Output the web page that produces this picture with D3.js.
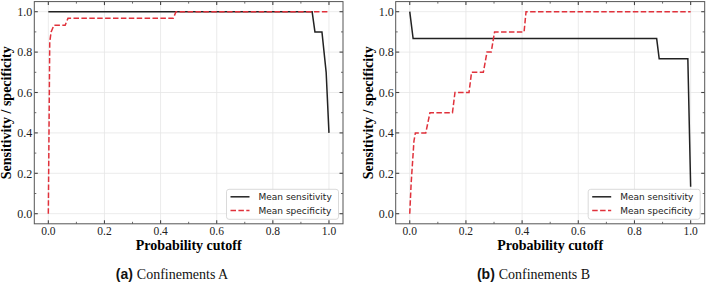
<!DOCTYPE html>
<html>
<head>
<meta charset="utf-8">
<script src="https://cdn.jsdelivr.net/npm/d3@7"></script>
<style>
  html, body { margin: 0; padding: 0; background: #fff; }
  svg { display: block; }
  .serif { font-family: 'Liberation Serif', 'Times New Roman', Times, 'DejaVu Serif', serif; }
  .sans { font-family: 'DejaVu Sans', sans-serif; }
  .capsans { font-family: 'Liberation Sans', Arial, Helvetica, sans-serif; }
</style>
</head>
<body>
<svg id="chart" width="708" height="284"></svg>
<script>
// data: [probability cutoff, value]
const sensitivityA = [[0, 1], [0.94, 1], [0.95, 0.9], [0.975, 0.9], [0.99, 0.7], [1.0, 0.4]]
const specificityA = [[0, 0], [0.005, 0.85], [0.01, 0.9], [0.02, 0.933], [0.06, 0.933], [0.07, 0.967],
  [0.445, 0.967], [0.455, 1], [1.0, 1]]
const sensitivityB = [[0, 1], [0.012, 0.867], [0.879, 0.867], [0.888, 0.767], [0.99, 0.767], [1.0, 0.133]]
const specificityB = [[0, 0], [0.005, 0.15], [0.015, 0.36], [0.02, 0.4], [0.057, 0.4], [0.072, 0.5],
  [0.152, 0.5], [0.161, 0.6], [0.211, 0.6], [0.22, 0.7], [0.262, 0.7], [0.275, 0.8],
  [0.29, 0.8], [0.302, 0.9], [0.407, 0.9], [0.414, 1], [1.0, 1]]

const majorTicks = [0, 0.2, 0.4, 0.6, 0.8, 1.0]
const minorTicks = [0.1, 0.3, 0.5, 0.7, 0.9]
const legendLabels = ['Mean sensitivity', 'Mean specificity']
const captions = [['(a)', 'Confinements A'], ['(b)', 'Confinements B']]
const xLabel = 'Probability cutoff'
const yLabel = 'Sensitivity / specificity'

const panels = [
  { left: 34.3, right: 343, sens: sensitivityA, spec: specificityA, caption: captions[0], capX: 172 },
  { left: 395.7, right: 704.7, sens: sensitivityB, spec: specificityB, caption: captions[1], capX: 533.5 }
]
const plotTop = 1.6, plotBottom = 223.8
const red = '#e0313b'

const svg = d3.select('#chart')

panels.forEach(p => {
  const x = d3.scaleLinear().domain([-0.05, 1.05]).range([p.left, p.right])
  const y = d3.scaleLinear().domain([-0.05, 1.05]).range([plotBottom, plotTop])
  const g = svg.append('g')

  // grid
  g.append('g').selectAll('line').data(majorTicks).join('line')
    .attr('x1', d => x(d)).attr('x2', d => x(d)).attr('y1', plotTop).attr('y2', plotBottom)
    .attr('stroke', '#e6e6e6').attr('stroke-width', 0.8)
  g.append('g').selectAll('line').data(majorTicks).join('line')
    .attr('y1', d => y(d)).attr('y2', d => y(d)).attr('x1', p.left).attr('x2', p.right)
    .attr('stroke', '#e6e6e6').attr('stroke-width', 0.8)

  // lines
  const line = d3.line().x(d => x(d[0])).y(d => y(d[1]))
  g.append('path').datum(p.sens).attr('d', line)
    .attr('fill', 'none').attr('stroke', '#222').attr('stroke-width', 1.5)
  g.append('path').datum(p.spec).attr('d', line)
    .attr('fill', 'none').attr('stroke', red).attr('stroke-width', 1.5)
    .attr('stroke-dasharray', '5.5,2.4')

  // ticks, inward on all sides
  const ticks = g.append('g').attr('stroke', '#444')
  const addTicks = (vals, len, w) => {
    vals.forEach(v => {
      ticks.append('line').attr('x1', x(v)).attr('x2', x(v)).attr('y1', plotBottom).attr('y2', plotBottom - len).attr('stroke-width', w)
      ticks.append('line').attr('x1', x(v)).attr('x2', x(v)).attr('y1', plotTop).attr('y2', plotTop + len).attr('stroke-width', w)
      ticks.append('line').attr('y1', y(v)).attr('y2', y(v)).attr('x1', p.left).attr('x2', p.left + len).attr('stroke-width', w)
      ticks.append('line').attr('y1', y(v)).attr('y2', y(v)).attr('x1', p.right).attr('x2', p.right - len).attr('stroke-width', w)
    })
  }
  addTicks(majorTicks, 3.5, 1.1)
  addTicks(minorTicks, 2, 0.8)

  // frame
  g.append('rect').attr('x', p.left).attr('y', plotTop)
    .attr('width', p.right - p.left).attr('height', plotBottom - plotTop)
    .attr('fill', 'none').attr('stroke', '#555').attr('stroke-width', 1)

  // tick labels
  g.append('g').selectAll('text').data(majorTicks).join('text')
    .attr('class', 'serif')
    .attr('x', d => x(d)).attr('y', plotBottom + 11)
    .attr('text-anchor', 'middle')
    .style('font-size', '11.5px').attr('fill', '#222')
    .text(d => d.toFixed(1))
  g.append('g').selectAll('text').data(majorTicks).join('text')
    .attr('class', 'serif')
    .attr('x', p.left - 2).attr('y', d => y(d)).attr('dy', '0.35em')
    .attr('text-anchor', 'end')
    .style('font-size', '12px').attr('fill', '#222')
    .text(d => d.toFixed(1))

  // axis labels
  g.append('text').attr('class', 'serif')
    .attr('x', (x(0) + x(1)) / 2).attr('y', 249.5)
    .attr('text-anchor', 'middle')
    .style('font-size', '14px').style('font-weight', 'bold')
    .text(xLabel)
  g.append('text').attr('class', 'serif')
    .attr('transform', `translate(${p.left - 23},${(plotTop + plotBottom) / 2}) rotate(-90)`)
    .attr('text-anchor', 'middle')
    .style('font-size', '14px').style('font-weight', 'bold')
    .text(yLabel)

  // legend, lower right
  const lw = 112, lh = 30
  const lx = p.right - 4.5 - lw, ly = plotBottom - 4.5 - lh
  const leg = g.append('g')
  leg.append('rect').attr('x', lx).attr('y', ly).attr('width', lw).attr('height', lh)
    .attr('rx', 2.5).attr('fill', 'rgba(255,255,255,0.85)').attr('stroke', '#d0d0d0').attr('stroke-width', 0.8)
  legendLabels.forEach((lab, i) => {
    const cy = ly + 7.5 + i * 13.7
    leg.append('line').attr('x1', lx + 4).attr('x2', lx + 23).attr('y1', cy).attr('y2', cy)
      .attr('stroke', i === 0 ? '#222' : red).attr('stroke-width', 1.5)
      .attr('stroke-dasharray', i === 0 ? null : '5.5,2.4')
    leg.append('text').attr('class', 'sans').attr('x', lx + 32).attr('y', cy).attr('dy', '0.35em')
      .style('font-size', '9px').attr('fill', '#222')
      .text(lab)
  })

  // caption
  const cap = g.append('text').attr('x', p.capX).attr('y', 279).attr('text-anchor', 'middle')
    .style('font-size', '14px').attr('fill', '#111')
  cap.append('tspan').attr('class', 'capsans').style('font-weight', 'bold')
    .text(p.caption[0] + ' ')
  cap.append('tspan').attr('class', 'serif').text(p.caption[1])
})
</script>
</body>
</html>
